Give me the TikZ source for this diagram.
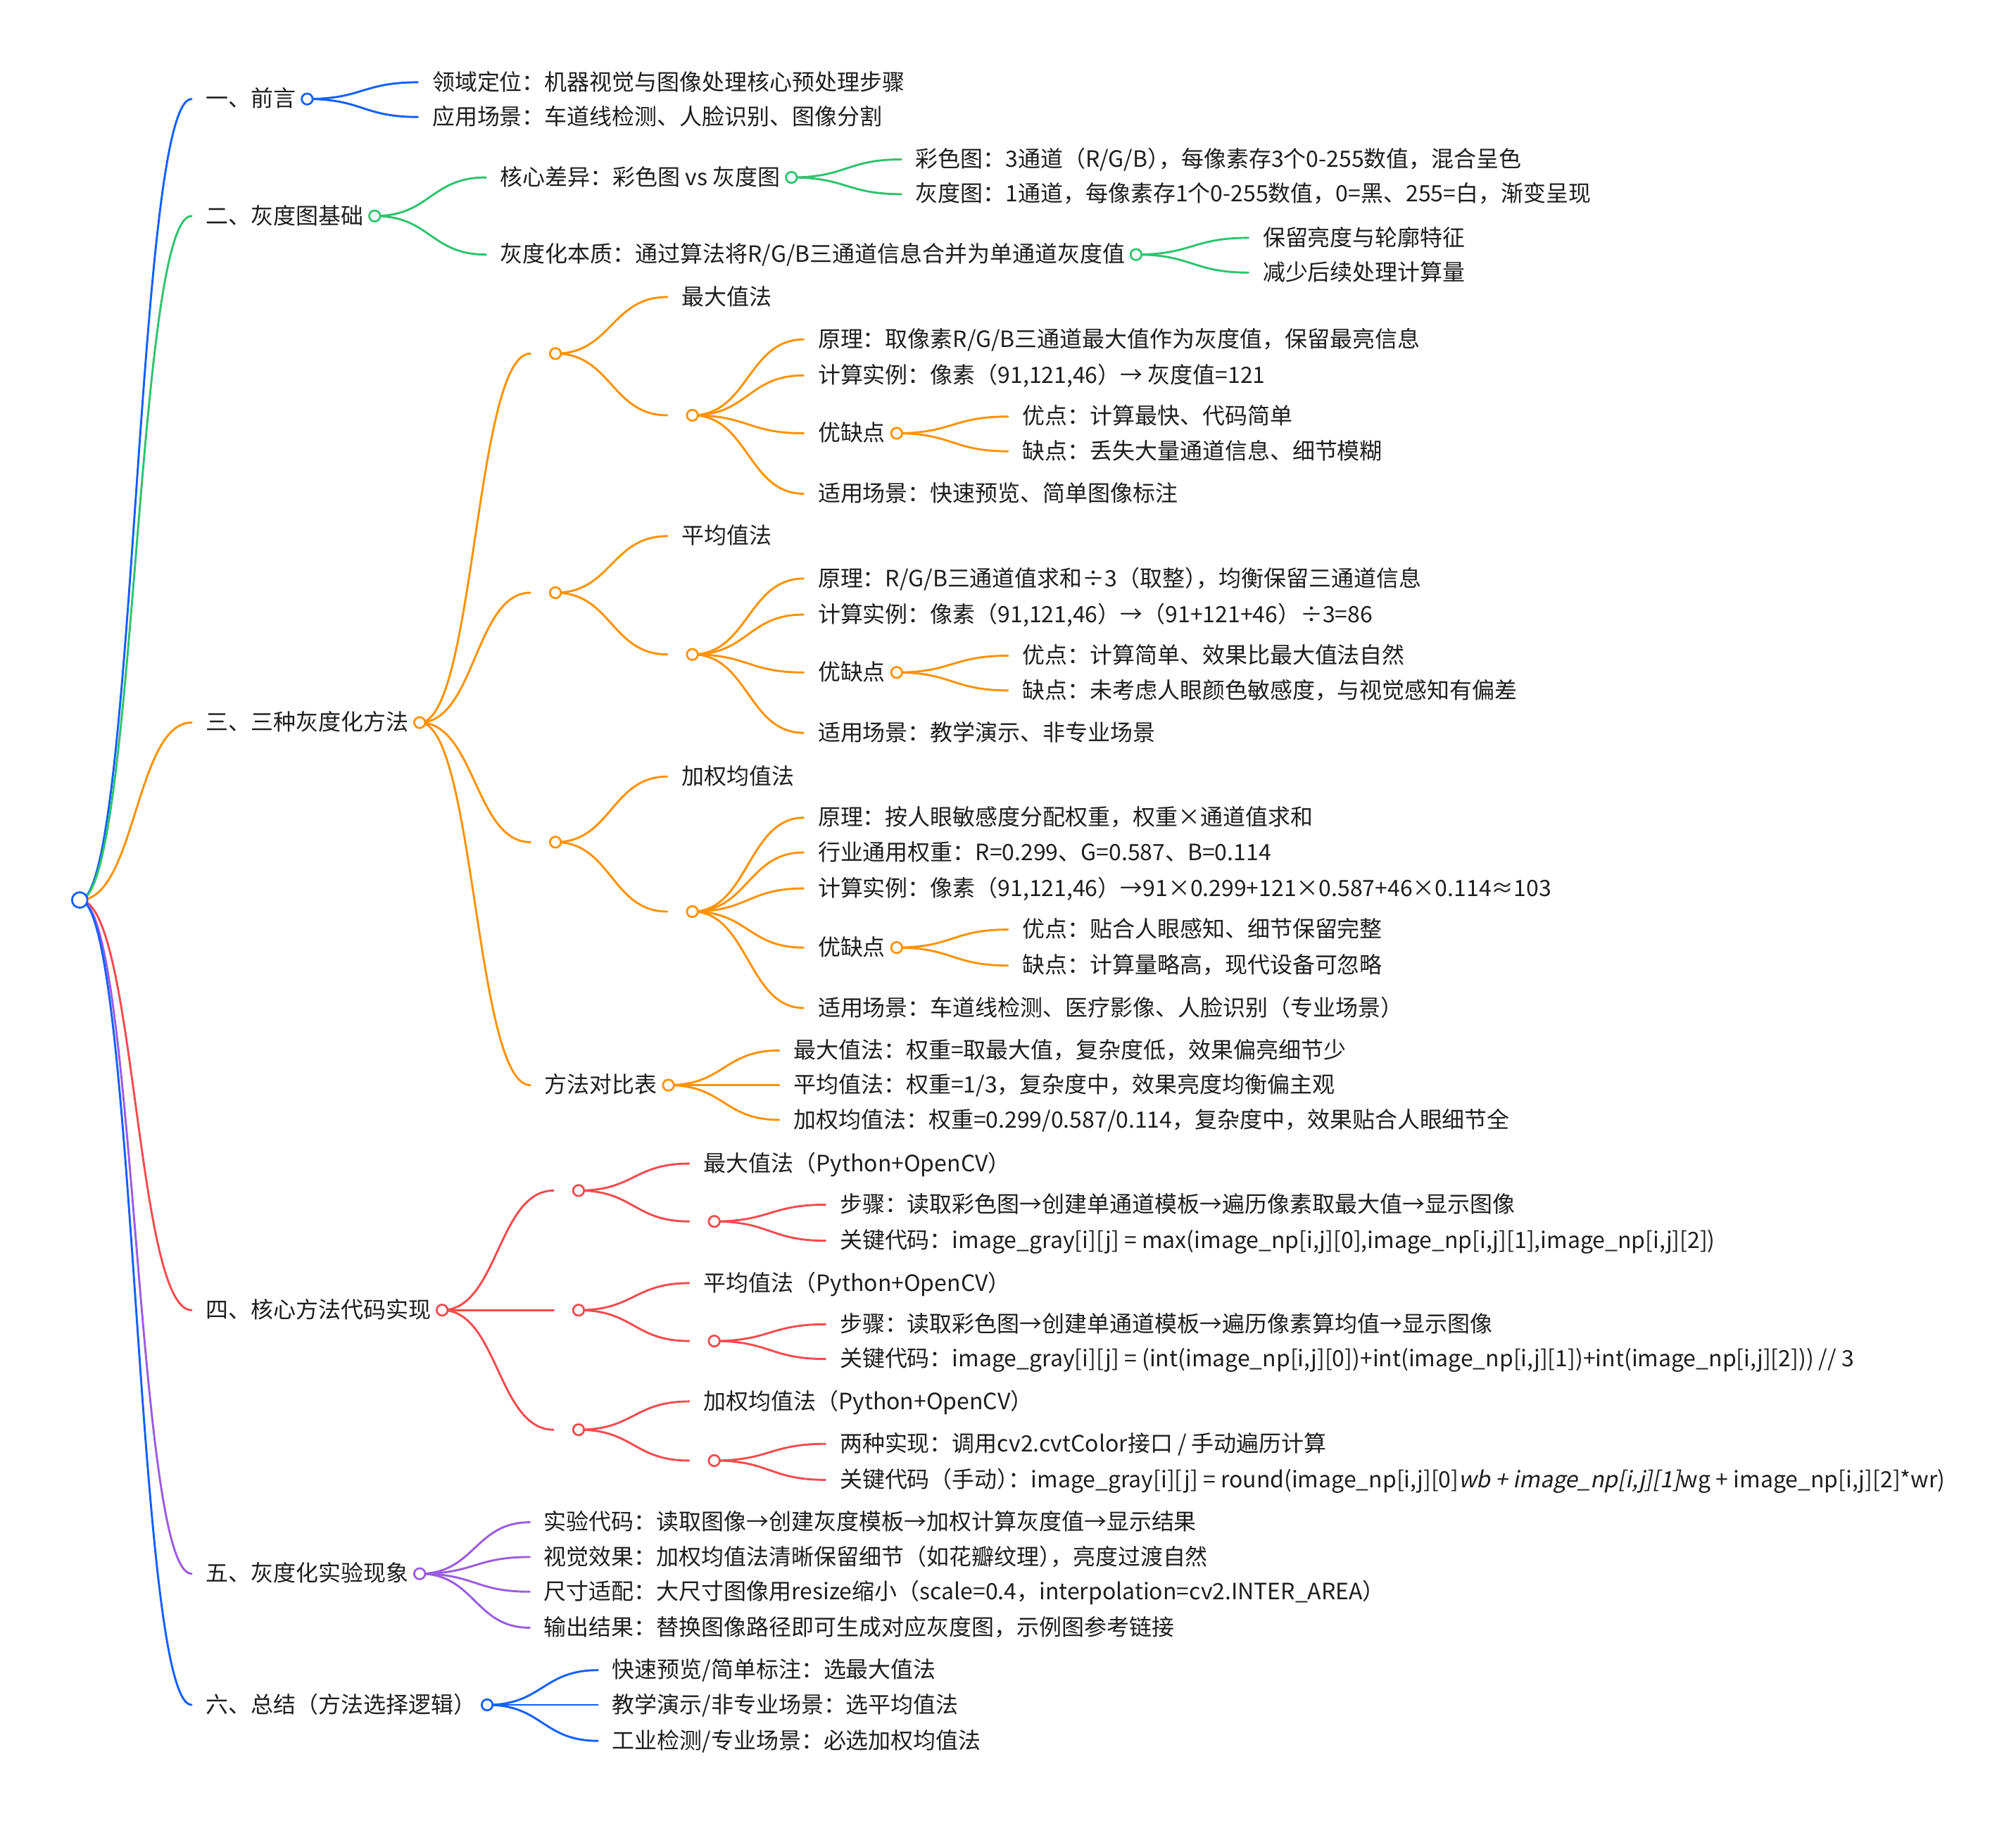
\documentclass[tikz,border=0pt]{standalone}
\usepackage{fontspec}
\setmainfont{Noto Sans CJK SC}[AutoFakeSlant=0.2]
\usetikzlibrary{calc}
\pgfdeclarelayer{paper}
\pgfdeclarelayer{bg}
\pgfsetlayers{paper,bg,main}
\definecolor{cb}{HTML}{1260FF}
\definecolor{cg}{HTML}{2EC46E}
\definecolor{co}{HTML}{FF9200}
\definecolor{cr}{HTML}{F54B4E}
\definecolor{cp}{HTML}{9B5CE3}
\definecolor{tc}{HTML}{1E1E1E}
\newcommand\mmfs{\fontsize{17.5}{21}\selectfont}
\newcommand\hk{\kern-0.5em}
\tikzset{
  txt/.style={anchor=west, inner sep=0pt, text height=1.25em, text depth=0.03em, font=\mmfs, text=tc},
  dot/.style={circle, draw=#1, fill=white, line width=1.5pt, minimum size=8.5pt, inner sep=0pt},
  lnk/.style={draw=#1, line width=1.6pt, line cap=round},
}
% text node (name, x of link end, y, text)
\newcommand\mmT[4]{\coordinate (#1-l) at (#2,#3); \node[txt] (#1) at ({#2+11},#3) {#4};}
% circle after a text node
\newcommand\mmC[2]{\node[dot=#2] (#1-c) at ([xshift=8.5pt]#1.east) {};}
% empty node with circle
\newcommand\mmE[4]{\coordinate (#1-l) at (#2,#3); \node[dot=#4] (#1-c) at ({#2+19.5},#3) {};}
% link from parent circle to child
\newcommand\mmL[3]{\begin{pgfonlayer}{bg}\draw[lnk=#1] let \p1=(#2-c.center), \p2=(#3-l.center) in (\p1) .. controls ({(\x1+\x2)/2},\y1) and ({(\x1+\x2)/2},\y2) .. (\p2);\end{pgfonlayer}}
\begin{document}
\begin{tikzpicture}[x=1pt,y=-1pt]
\begin{pgfonlayer}{paper}
\fill[white] (0,0) rectangle (1568,1416);
\end{pgfonlayer}
\useasboundingbox (0,0) rectangle (1568,1416);
\node[dot=cb, minimum size=12pt] (root-c) at (62,700) {};
% level 1
\mmT{a}{149}{77}{一、前言}\mmC{a}{cb}\mmL{cb}{root}{a}
\mmT{b}{149}{168}{二、灰度图基础}\mmC{b}{cg}\mmL{cg}{root}{b}
\mmT{c}{149}{562}{三、三种灰度化方法}\mmC{c}{co}\mmL{co}{root}{c}
\mmT{d}{149}{1019}{四、核心方法代码实现}\mmC{d}{cr}\mmL{cr}{root}{d}
\mmT{e}{149}{1224}{五、灰度化实验现象}\mmC{e}{cp}\mmL{cp}{root}{e}
\mmT{f}{149}{1326}{六、总结（方法选择逻辑）}\mmC{f}{cb}\mmL{cb}{root}{f}
% a
\mmT{a1}{325}{64}{领域定位：机器视觉与图像处理核心预处理步骤}\mmL{cb}{a}{a1}
\mmT{a2}{325}{91}{应用场景：车道线检测、人脸识别、图像分割}\mmL{cb}{a}{a2}
% b
\mmT{b1}{378}{138}{核心差异：彩色图 vs 灰度图}\mmC{b1}{cg}\mmL{cg}{b}{b1}
\mmT{b2}{378}{198}{灰度化本质：通过算法将R/G/B三通道信息合并为单通道灰度值}\mmC{b2}{cg}\mmL{cg}{b}{b2}
\mmT{b11}{701}{124}{彩色图：3通道（R/G/B）\hk，每像素存3个0-255数值，混合呈色}\mmL{cg}{b1}{b11}
\mmT{b12}{701}{151}{灰度图：1通道，每像素存1个0-255数值，0=黑、255=白，渐变呈现}\mmL{cg}{b1}{b12}
\mmT{b21}{971}{185}{保留亮度与轮廓特征}\mmL{cg}{b2}{b21}
\mmT{b22}{971}{212}{减少后续处理计算量}\mmL{cg}{b2}{b22}
% c
\mmE{c1}{412.5}{275}{co}\mmL{co}{c}{c1}
\mmE{c2}{412.5}{461}{co}\mmL{co}{c}{c2}
\mmE{c3}{412.5}{655}{co}\mmL{co}{c}{c3}
\mmT{c4}{412.5}{844}{方法对比表}\mmC{c4}{co}\mmL{co}{c}{c4}
% c1
\mmT{c11}{519}{231}{最大值法}\mmL{co}{c1}{c11}
\mmE{c12}{519}{323}{co}\mmL{co}{c1}{c12}
\mmT{c121}{625}{264}{原理：取像素R/G/B三通道最大值作为灰度值，保留最亮信息}\mmL{co}{c12}{c121}
\mmT{c122}{625}{292}{计算实例：像素（91,121,46）→ 灰度值=121}\mmL{co}{c12}{c122}
\mmT{c123}{625}{337}{优缺点}\mmC{c123}{co}\mmL{co}{c12}{c123}
\mmT{c124}{625}{384}{适用场景：快速预览、简单图像标注}\mmL{co}{c12}{c124}
\mmT{c1231}{784}{324}{优点：计算最快、代码简单}\mmL{co}{c123}{c1231}
\mmT{c1232}{784}{351}{缺点：丢失大量通道信息、细节模糊}\mmL{co}{c123}{c1232}
% c2
\mmT{c21}{519}{417}{平均值法}\mmL{co}{c2}{c21}
\mmE{c22}{519}{509}{co}\mmL{co}{c2}{c22}
\mmT{c221}{625}{450}{原理：R/G/B三通道值求和÷3（取整）\hk，均衡保留三通道信息}\mmL{co}{c22}{c221}
\mmT{c222}{625}{478}{计算实例：像素（91,121,46）→（91+121+46）÷3=86}\mmL{co}{c22}{c222}
\mmT{c223}{625}{523}{优缺点}\mmC{c223}{co}\mmL{co}{c22}{c223}
\mmT{c224}{625}{570}{适用场景：教学演示、非专业场景}\mmL{co}{c22}{c224}
\mmT{c2231}{784}{510}{优点：计算简单、效果比最大值法自然}\mmL{co}{c223}{c2231}
\mmT{c2232}{784}{537}{缺点：未考虑人眼颜色敏感度，与视觉感知有偏差}\mmL{co}{c223}{c2232}
% c3
\mmT{c31}{519}{604}{加权均值法}\mmL{co}{c3}{c31}
\mmE{c32}{519}{709}{co}\mmL{co}{c3}{c32}
\mmT{c321}{625}{636}{原理：按人眼敏感度分配权重，权重×通道值求和}\mmL{co}{c32}{c321}
\mmT{c322}{625}{663}{行业通用权重：R=0.299、G=0.587、B=0.114}\mmL{co}{c32}{c322}
\mmT{c323}{625}{691}{计算实例：像素（91,121,46）→91×0.299+121×0.587+46×0.114≈103}\mmL{co}{c32}{c323}
\mmT{c324}{625}{737}{优缺点}\mmC{c324}{co}\mmL{co}{c32}{c324}
\mmT{c325}{625}{784}{适用场景：车道线检测、医疗影像、人脸识别（专业场景）}\mmL{co}{c32}{c325}
\mmT{c3241}{784}{723}{优点：贴合人眼感知、细节保留完整}\mmL{co}{c324}{c3241}
\mmT{c3242}{784}{751}{缺点：计算量略高，现代设备可忽略}\mmL{co}{c324}{c3242}
% c4
\mmT{c41}{606}{817}{最大值法：权重=取最大值，复杂度低，效果偏亮细节少}\mmL{co}{c4}{c41}
\mmT{c42}{606}{844}{平均值法：权重=1/3，复杂度中，效果亮度均衡偏主观}\mmL{co}{c4}{c42}
\mmT{c43}{606}{871}{加权均值法：权重=0.299/0.587/0.114，复杂度中，效果贴合人眼细节全}\mmL{co}{c4}{c43}
% d
\mmE{d1}{430.5}{926}{cr}\mmL{cr}{d}{d1}
\mmE{d2}{430.5}{1019}{cr}\mmL{cr}{d}{d2}
\mmE{d3}{430.5}{1112}{cr}\mmL{cr}{d}{d3}
\mmT{d11}{536}{905}{最大值法（Python+OpenCV）}\mmL{cr}{d1}{d11}
\mmE{d12}{536}{950}{cr}\mmL{cr}{d1}{d12}
\mmT{d121}{642}{937}{步骤：读取彩色图→创建单通道模板→遍历像素取最大值→显示图像}\mmL{cr}{d12}{d121}
\mmT{d122}{642}{965}{关键代码：image\_gray[i][j] = max(image\_np[i,j][0],image\_np[i,j][1],image\_np[i,j][2])}\mmL{cr}{d12}{d122}
\mmT{d21}{536}{998}{平均值法（Python+OpenCV）}\mmL{cr}{d2}{d21}
\mmE{d22}{536}{1043}{cr}\mmL{cr}{d2}{d22}
\mmT{d221}{642}{1030}{步骤：读取彩色图→创建单通道模板→遍历像素算均值→显示图像}\mmL{cr}{d22}{d221}
\mmT{d222}{642}{1057}{关键代码：image\_gray[i][j] = (int(image\_np[i,j][0])+int(image\_np[i,j][1])+int(image\_np[i,j][2])) // 3}\mmL{cr}{d22}{d222}
\mmT{d31}{536}{1090}{加权均值法（Python+OpenCV）}\mmL{cr}{d3}{d31}
\mmE{d32}{536}{1136}{cr}\mmL{cr}{d3}{d32}
\mmT{d321}{642}{1123}{两种实现：调用cv2.cvtColor接口 / 手动遍历计算}\mmL{cr}{d32}{d321}
\mmT{d322}{642}{1151}{关键代码（手动）\hk：image\_gray[i][j] = round(image\_np[i,j][0]\textit{wb + image\_np[i,j][1]}wg + image\_np[i,j][2]*wr)}\mmL{cr}{d32}{d322}
% e
\mmT{e1}{412}{1184}{实验代码：读取图像→创建灰度模板→加权计算灰度值→显示结果}\mmL{cp}{e}{e1}
\mmT{e2}{412}{1211}{视觉效果：加权均值法清晰保留细节（如花瓣纹理）\hk，亮度过渡自然}\mmL{cp}{e}{e2}
\mmT{e3}{412}{1238}{尺寸适配：大尺寸图像用resize缩小（scale=0.4，interpolation=cv2.INTER\_AREA）}\mmL{cp}{e}{e3}
\mmT{e4}{412}{1266}{输出结果：替换图像路径即可生成对应灰度图，示例图参考链接}\mmL{cp}{e}{e4}
% f
\mmT{f1}{465}{1299}{快速预览/简单标注：选最大值法}\mmL{cb}{f}{f1}
\mmT{f2}{465}{1326}{教学演示/非专业场景：选平均值法}\mmL{cb}{f}{f2}
\mmT{f3}{465}{1354}{工业检测/专业场景：必选加权均值法}\mmL{cb}{f}{f3}
\end{tikzpicture}
\end{document}
